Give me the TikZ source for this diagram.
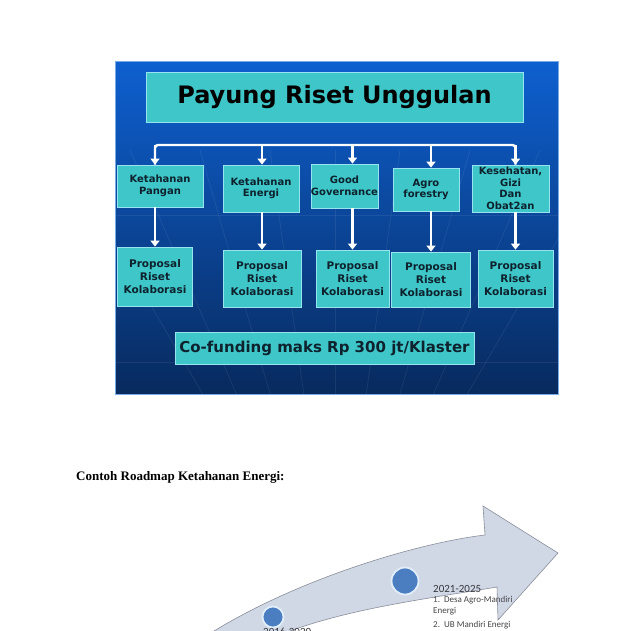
\documentclass[tikz,border=0pt]{standalone}
\usepackage{fontspec}
\setmainfont{Liberation Serif}
\newfontfamily\slidefont{DejaVu Sans}
\newfontfamily\petafont{Carlito}
\usetikzlibrary{arrows.meta}
\definecolor{birumuda}{RGB}{14,96,208}
\definecolor{birutua}{RGB}{8,42,94}
\definecolor{tepislide}{RGB}{120,170,230}
\definecolor{toska}{RGB}{62,198,200}
\definecolor{tepitoska}{RGB}{150,228,240}
\definecolor{teksgelap}{RGB}{14,34,46}
\definecolor{panahabu}{RGB}{208,216,230}
\definecolor{garisabu}{RGB}{138,142,154}
\definecolor{bulatbiru}{RGB}{74,126,192}
\definecolor{tepibulat}{RGB}{225,238,250}
\definecolor{tekspeta}{RGB}{70,70,74}
\definecolor{tekstahun}{RGB}{55,55,60}
\tikzset{
  kotak/.style={draw=tepitoska, fill=toska, line width=0.8pt, text=teksgelap,
    align=center, inner sep=0pt,
    font=\slidefont\bfseries\fontsize{10}{11.5}\selectfont},
  usulan/.style={kotak, font=\slidefont\bfseries\fontsize{10.5}{13.3}\selectfont},
  panah/.style={draw=white, line width=2.4pt, -{Triangle[width=9pt,length=6pt]}},
  meridian/.style={draw=white, opacity=0.07, line width=0.8pt},
  bulat/.style={circle, fill=bulatbiru, draw=tepibulat, line width=1.8pt, inner sep=0pt},
  catatan/.style={anchor=west, inner sep=0pt, text=tekspeta,
    font=\petafont\fontsize{9}{11}\selectfont},
  tahun/.style={catatan, text=tekstahun, font=\petafont\fontsize{11}{13}\selectfont}
}
\begin{document}
\begin{tikzpicture}[x=1pt,y=-1pt]
  \useasboundingbox (0,0) rectangle (638,630);
  \fill[white] (0,0) rectangle (638,630);
  % slide
  \shade[top color=birumuda, bottom color=birutua] (115,61) rectangle (558,394);
  \begin{scope}
    \clip (115,61) rectangle (558,394);
    \foreach \a in {60,130,200,270,335,400,470,540,610}
      \draw[meridian] (335,620) -- (\a,150);
    \draw[meridian] (115,215) -- (558,215);
    \draw[meridian] (115,362) -- (558,362);
  \end{scope}
  \draw[tepislide, line width=0.6pt] (115,61) rectangle (558,394);
  \path
    (334.5,97) node[kotak, minimum width=377pt, minimum height=50pt,
      text=black, font=\slidefont\bfseries\fontsize{24}{28}\selectfont] (judul) {Payung Riset Unggulan}
    (160,186) node[kotak, minimum width=86pt, minimum height=42pt] (k1) {Ketahanan\\Pangan}
    (261,188.5) node[kotak, minimum width=76pt, minimum height=47pt] (k2) {Ketahanan\\Energi}
    (344.5,186) node[kotak, minimum width=67pt, minimum height=44pt] (k3) {Good\\Governance}
    (426,189.5) node[kotak, minimum width=66pt, minimum height=43pt] (k4) {Agro\\forestry}
    (510.5,188.5) node[kotak, minimum width=77pt, minimum height=47pt] (k5) {Kesehatan,\\Gizi\\Dan\\Obat2an}
    (155,276.5) node[usulan, minimum width=75pt, minimum height=59pt] (p1) {Proposal\\Riset\\Kolaborasi}
    (262,278.5) node[usulan, minimum width=78pt, minimum height=57pt] (p2) {Proposal\\Riset\\Kolaborasi}
    (352.5,278.5) node[usulan, minimum width=73pt, minimum height=57pt] (p3) {Proposal\\Riset\\Kolaborasi}
    (431,279.5) node[usulan, minimum width=79pt, minimum height=55pt] (p4) {Proposal\\Riset\\Kolaborasi}
    (515.5,278.5) node[usulan, minimum width=75pt, minimum height=57pt] (p5) {Proposal\\Riset\\Kolaborasi}
    (324.5,348) node[kotak, minimum width=299pt, minimum height=32pt,
      font=\slidefont\bfseries\fontsize{15}{18}\selectfont] (dana) {Co-funding maks Rp 300 jt/Klaster};
  \coordinate (bus) at (0,145);
  \begin{scope}[panah]
    \draw[-, rounded corners=3pt] (p1.north |- k1.north) -- (p1.north |- bus)
      -- (p5.north |- bus) -- (p5.north |- k5.north);
    \foreach \i in {1,...,5} {
      \draw (p\i.north |- bus) -- (p\i.north |- k\i.north);
      \draw (k\i.south -| p\i.north) -- (p\i.north);
    }
  \end{scope}
  % roadmap
  \node[anchor=base west, inner sep=0pt, font=\bfseries\fontsize{13}{15}\selectfont]
    (contoh) at (76,480) {Contoh Roadmap Ketahanan Energi:};
  \begin{scope}
    \clip (0,0) rectangle (638,630);
    \draw[fill=panahabu, draw=garisabu, line width=0.6pt]
      (150,680) .. controls (230,600) and (400,545) .. (485,535)
      -- (483,506) -- (558,553) -- (498,620) -- (497,587)
      .. controls (400,603) and (300,615) .. (230,660) -- cycle;
    \node[bulat, minimum size=27pt] (t1) at (405,581) {};
    \node[bulat, minimum size=21pt] (t2) at (273,617) {};
    \node[tahun, anchor=north west] (tahun2) at (263,627.5) {2016-2020};
    \node[tahun] (tahun1) at (433,589) {2021-2025};
    \node[catatan] (poin1) at (433,600) {1.~~Desa Agro-Mandiri};
    \node[catatan] (poin1b) at (433,611) {Energi};
    \node[catatan] (poin2) at (433,625.5) {2.~~UB Mandiri Energi};
  \end{scope}
\end{tikzpicture}
\end{document}
